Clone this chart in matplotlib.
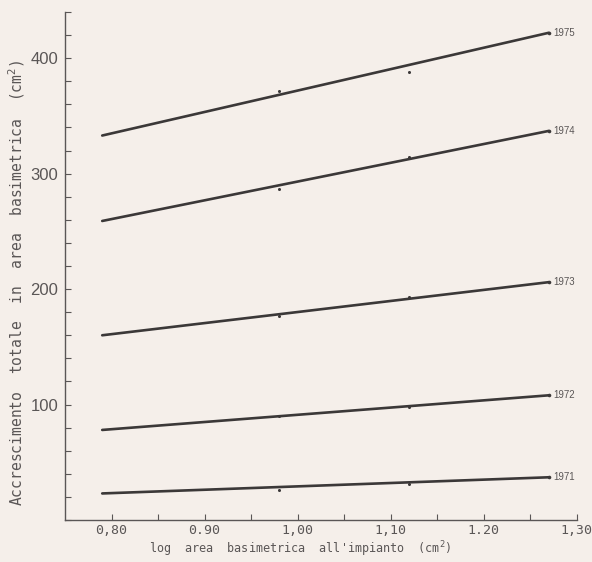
import matplotlib.pyplot as plt
from matplotlib.ticker import MultipleLocator, FixedLocator

# data
years = ['1971', '1972', '1973', '1974', '1975']
x_fit = [0.79, 1.27]                      # ends of the fitted lines
fit_start = [23, 78, 160, 259, 333]
fit_end = [37, 108, 206, 337, 422]
x_obs = [0.98, 1.12]                      # small dots on the lines
obs = [[26, 31], [90, 98], [177, 193], [287, 314], [372, 388]]

xticks = [0.80, 0.90, 1.00, 1.10, 1.20, 1.30]
xtick_labels = ['0,80', '0.90', '1,00', '1,10', '1.20', '1,30']
yticks = [100, 200, 300, 400]

paper = '#f5efea'
ink = '#3b3838'
grey = '#5a5656'

fig = plt.figure(figsize=(5.92, 5.62), dpi=100, facecolor=paper)
ax = fig.add_axes([65 / 592, 42 / 562, (576.7 - 65) / 592, (520 - 12) / 562])
ax.set_facecolor(paper)

for i, yr in enumerate(years):
    ax.plot(x_fit, [fit_start[i], fit_end[i]], color=ink, lw=1.9,
            solid_capstyle='round')
    ax.plot(x_obs, obs[i], 'o', color=ink, ms=2.2, mew=0)
    ax.plot(x_fit[1], fit_end[i], 'o', color=ink, ms=2.6, mew=0)
    ax.annotate(yr, (x_fit[1], fit_end[i]), xytext=(3, 0),
                textcoords='offset points', va='center', ha='left',
                fontsize=7, color=grey, family='Liberation Sans')

ax.set_xlim(0.75, 1.30)
ax.set_ylim(0, 440)

for s in ['top', 'right']:
    ax.spines[s].set_visible(False)
for s in ['left', 'bottom']:
    ax.spines[s].set_color(grey)
    ax.spines[s].set_linewidth(1.0)

ax.xaxis.set_major_locator(FixedLocator(xticks))
ax.xaxis.set_minor_locator(FixedLocator([0.85, 0.95, 1.05, 1.15, 1.25]))
ax.set_xticklabels(xtick_labels, family='DejaVu Sans Mono', fontsize=9.5,
                   color=grey)
ax.yaxis.set_major_locator(FixedLocator(yticks))
ax.yaxis.set_minor_locator(MultipleLocator(20))
ax.set_yticklabels([str(v) for v in yticks], family='Liberation Sans',
                   fontsize=12, color=grey)

ax.tick_params(axis='both', which='both', direction='in', length=4,
               width=0.8, color=grey)
ax.tick_params(axis='x', pad=3)
ax.tick_params(axis='y', pad=5)

ax.set_xlabel("log  area  basimetrica  all'impianto  (cm$^2$)",
              family='DejaVu Sans Mono', fontsize=8.5, color=grey)
ax.xaxis.set_label_coords(0.46, -0.038)
ax.set_ylabel("Accrescimento  totale  in  area  basimetrica  (cm$^2$)",
              family='DejaVu Sans Mono', fontsize=10.5, color=grey)
ax.yaxis.set_label_coords(-0.074, 0.467)

fig.savefig('out.png', dpi=100, facecolor=paper)
